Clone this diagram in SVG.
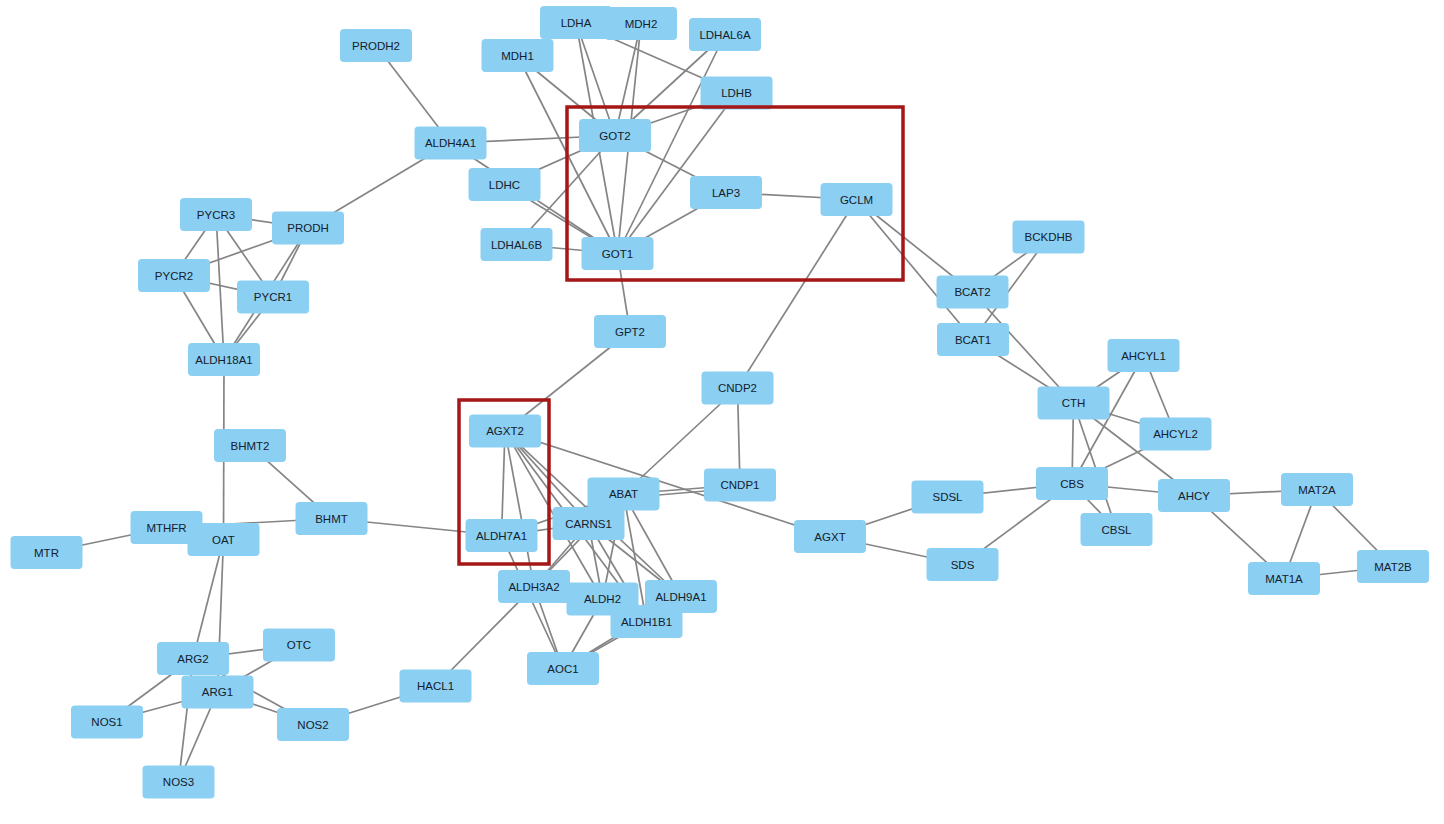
<svg xmlns="http://www.w3.org/2000/svg" width="1444" height="824" viewBox="0 0 1444 824">
<style>
.n rect{fill:#8BCFF2;}
.n text{font-family:"Liberation Sans",Arial,sans-serif;font-size:11.5px;fill:#14202c;text-anchor:middle;}
#edges line{stroke:#858585;stroke-width:1.7;}
.hl{fill:none;stroke:#A51616;stroke-width:3.5;}
</style>
<rect width="1444" height="824" fill="#ffffff"/>
<g id="edges">
<line x1="376" y1="45.5" x2="450.5" y2="143"/>
<line x1="450.5" y1="143" x2="615" y2="135.5"/>
<line x1="450.5" y1="143" x2="617.5" y2="253.5"/>
<line x1="450.5" y1="143" x2="308" y2="228"/>
<line x1="576" y1="22.5" x2="615" y2="135.5"/>
<line x1="576" y1="22.5" x2="617.5" y2="253.5"/>
<line x1="576" y1="22.5" x2="736.5" y2="93"/>
<line x1="641" y1="23.5" x2="615" y2="135.5"/>
<line x1="641" y1="23.5" x2="617.5" y2="253.5"/>
<line x1="517.5" y1="55.5" x2="615" y2="135.5"/>
<line x1="517.5" y1="55.5" x2="617.5" y2="253.5"/>
<line x1="725" y1="34.5" x2="615" y2="135.5"/>
<line x1="725" y1="34.5" x2="617.5" y2="253.5"/>
<line x1="736.5" y1="93" x2="615" y2="135.5"/>
<line x1="736.5" y1="93" x2="617.5" y2="253.5"/>
<line x1="615" y1="135.5" x2="726" y2="192.5"/>
<line x1="615" y1="135.5" x2="504.5" y2="184.5"/>
<line x1="615" y1="135.5" x2="516.5" y2="244.5"/>
<line x1="504.5" y1="184.5" x2="617.5" y2="253.5"/>
<line x1="516.5" y1="244.5" x2="617.5" y2="253.5"/>
<line x1="617.5" y1="253.5" x2="726" y2="192.5"/>
<line x1="726" y1="192.5" x2="856.5" y2="199.5"/>
<line x1="617.5" y1="253.5" x2="630" y2="331.5"/>
<line x1="630" y1="331.5" x2="505" y2="431"/>
<line x1="856.5" y1="199.5" x2="737.5" y2="388"/>
<line x1="856.5" y1="199.5" x2="972.5" y2="292"/>
<line x1="856.5" y1="199.5" x2="973" y2="339.5"/>
<line x1="216" y1="214.5" x2="308" y2="228"/>
<line x1="216" y1="214.5" x2="174" y2="275.5"/>
<line x1="216" y1="214.5" x2="273" y2="297"/>
<line x1="216" y1="214.5" x2="224" y2="359.5"/>
<line x1="308" y1="228" x2="174" y2="275.5"/>
<line x1="308" y1="228" x2="273" y2="297"/>
<line x1="308" y1="228" x2="224" y2="359.5"/>
<line x1="273" y1="297" x2="224" y2="359.5"/>
<line x1="174" y1="275.5" x2="273" y2="297"/>
<line x1="174" y1="275.5" x2="224" y2="359.5"/>
<line x1="224" y1="359.5" x2="223.5" y2="539.5"/>
<line x1="250" y1="445.5" x2="331.5" y2="518.5"/>
<line x1="166.5" y1="527.5" x2="331.5" y2="518.5"/>
<line x1="46.5" y1="552.5" x2="166.5" y2="527.5"/>
<line x1="331.5" y1="518.5" x2="501.5" y2="535.5"/>
<line x1="223.5" y1="539.5" x2="193" y2="658.5"/>
<line x1="223.5" y1="539.5" x2="217.5" y2="692"/>
<line x1="193" y1="658.5" x2="299" y2="645"/>
<line x1="217.5" y1="692" x2="299" y2="645"/>
<line x1="193" y1="658.5" x2="107" y2="722"/>
<line x1="217.5" y1="692" x2="107" y2="722"/>
<line x1="193" y1="658.5" x2="313" y2="724.5"/>
<line x1="217.5" y1="692" x2="313" y2="724.5"/>
<line x1="193" y1="658.5" x2="178.5" y2="782"/>
<line x1="217.5" y1="692" x2="178.5" y2="782"/>
<line x1="313" y1="724.5" x2="435.5" y2="686"/>
<line x1="435.5" y1="686" x2="534" y2="586.5"/>
<line x1="505" y1="431" x2="501.5" y2="535.5"/>
<line x1="505" y1="431" x2="534" y2="586.5"/>
<line x1="505" y1="431" x2="588.5" y2="523.5"/>
<line x1="505" y1="431" x2="602.5" y2="599"/>
<line x1="505" y1="431" x2="681" y2="596.5"/>
<line x1="505" y1="431" x2="646.5" y2="621.5"/>
<line x1="505" y1="431" x2="830" y2="536.5"/>
<line x1="501.5" y1="535.5" x2="623.5" y2="494"/>
<line x1="501.5" y1="535.5" x2="588.5" y2="523.5"/>
<line x1="501.5" y1="535.5" x2="563" y2="668.5"/>
<line x1="588.5" y1="523.5" x2="534" y2="586.5"/>
<line x1="588.5" y1="523.5" x2="602.5" y2="599"/>
<line x1="588.5" y1="523.5" x2="681" y2="596.5"/>
<line x1="588.5" y1="523.5" x2="646.5" y2="621.5"/>
<line x1="623.5" y1="494" x2="534" y2="586.5"/>
<line x1="623.5" y1="494" x2="602.5" y2="599"/>
<line x1="623.5" y1="494" x2="681" y2="596.5"/>
<line x1="623.5" y1="494" x2="646.5" y2="621.5"/>
<line x1="623.5" y1="494" x2="740" y2="485"/>
<line x1="623.5" y1="498" x2="740" y2="488"/>
<line x1="623.5" y1="494" x2="737.5" y2="388"/>
<line x1="534" y1="586.5" x2="563" y2="668.5"/>
<line x1="602.5" y1="599" x2="563" y2="668.5"/>
<line x1="646.5" y1="621.5" x2="563" y2="668.5"/>
<line x1="681" y1="596.5" x2="563" y2="668.5"/>
<line x1="737.5" y1="388" x2="740" y2="485"/>
<line x1="830" y1="536.5" x2="947.5" y2="497"/>
<line x1="830" y1="536.5" x2="962.5" y2="564.5"/>
<line x1="1048.5" y1="237" x2="972.5" y2="292"/>
<line x1="1048.5" y1="237" x2="973" y2="339.5"/>
<line x1="972.5" y1="292" x2="1073.5" y2="403"/>
<line x1="973" y1="339.5" x2="1073.5" y2="403"/>
<line x1="1143.5" y1="355.5" x2="1073.5" y2="403"/>
<line x1="1143.5" y1="355.5" x2="1072" y2="483.5"/>
<line x1="1143.5" y1="355.5" x2="1175.5" y2="434"/>
<line x1="1073.5" y1="403" x2="1175.5" y2="434"/>
<line x1="1073.5" y1="403" x2="1072" y2="483.5"/>
<line x1="1073.5" y1="403" x2="1116.5" y2="529.5"/>
<line x1="1073.5" y1="403" x2="1194" y2="495.5"/>
<line x1="1072" y1="483.5" x2="1175.5" y2="434"/>
<line x1="1072" y1="483.5" x2="947.5" y2="497"/>
<line x1="1072" y1="483.5" x2="962.5" y2="564.5"/>
<line x1="1072" y1="483.5" x2="1194" y2="495.5"/>
<line x1="1072" y1="483.5" x2="1116.5" y2="529.5"/>
<line x1="1194" y1="495.5" x2="1317" y2="489.5"/>
<line x1="1194" y1="495.5" x2="1284" y2="578.5"/>
<line x1="1317" y1="489.5" x2="1284" y2="578.5"/>
<line x1="1317" y1="489.5" x2="1393" y2="566.5"/>
<line x1="1284" y1="578.5" x2="1393" y2="566.5"/>
</g>
<g id="PRODH2" class="n"><rect x="340" y="29" width="72" height="33" rx="4"/><text x="376" y="49.5">PRODH2</text></g>
<g id="LDHA" class="n"><rect x="540" y="6" width="72" height="33" rx="4"/><text x="576" y="26.5">LDHA</text></g>
<g id="MDH2" class="n"><rect x="605" y="7" width="72" height="33" rx="4"/><text x="641" y="27.5">MDH2</text></g>
<g id="MDH1" class="n"><rect x="481.5" y="39" width="72" height="33" rx="4"/><text x="517.5" y="59.5">MDH1</text></g>
<g id="LDHAL6A" class="n"><rect x="689" y="18" width="72" height="33" rx="4"/><text x="725" y="38.5">LDHAL6A</text></g>
<g id="LDHB" class="n"><rect x="700.5" y="76.5" width="72" height="33" rx="4"/><text x="736.5" y="97">LDHB</text></g>
<g id="ALDH4A1" class="n"><rect x="414.5" y="126.5" width="72" height="33" rx="4"/><text x="450.5" y="147">ALDH4A1</text></g>
<g id="GOT2" class="n"><rect x="579" y="119" width="72" height="33" rx="4"/><text x="615" y="139.5">GOT2</text></g>
<g id="LDHC" class="n"><rect x="468.5" y="168" width="72" height="33" rx="4"/><text x="504.5" y="188.5">LDHC</text></g>
<g id="LAP3" class="n"><rect x="690" y="176" width="72" height="33" rx="4"/><text x="726" y="196.5">LAP3</text></g>
<g id="GCLM" class="n"><rect x="820.5" y="183" width="72" height="33" rx="4"/><text x="856.5" y="203.5">GCLM</text></g>
<g id="LDHAL6B" class="n"><rect x="480.5" y="228" width="72" height="33" rx="4"/><text x="516.5" y="248.5">LDHAL6B</text></g>
<g id="GOT1" class="n"><rect x="581.5" y="237" width="72" height="33" rx="4"/><text x="617.5" y="257.5">GOT1</text></g>
<g id="PYCR3" class="n"><rect x="180" y="198" width="72" height="33" rx="4"/><text x="216" y="218.5">PYCR3</text></g>
<g id="PRODH" class="n"><rect x="272" y="211.5" width="72" height="33" rx="4"/><text x="308" y="232">PRODH</text></g>
<g id="PYCR2" class="n"><rect x="138" y="259" width="72" height="33" rx="4"/><text x="174" y="279.5">PYCR2</text></g>
<g id="PYCR1" class="n"><rect x="237" y="280.5" width="72" height="33" rx="4"/><text x="273" y="301">PYCR1</text></g>
<g id="ALDH18A1" class="n"><rect x="188" y="343" width="72" height="33" rx="4"/><text x="224" y="363.5">ALDH18A1</text></g>
<g id="GPT2" class="n"><rect x="594" y="315" width="72" height="33" rx="4"/><text x="630" y="335.5">GPT2</text></g>
<g id="BCKDHB" class="n"><rect x="1012.5" y="220.5" width="72" height="33" rx="4"/><text x="1048.5" y="241">BCKDHB</text></g>
<g id="BCAT2" class="n"><rect x="936.5" y="275.5" width="72" height="33" rx="4"/><text x="972.5" y="296">BCAT2</text></g>
<g id="BCAT1" class="n"><rect x="937" y="323" width="72" height="33" rx="4"/><text x="973" y="343.5">BCAT1</text></g>
<g id="AHCYL1" class="n"><rect x="1107.5" y="339" width="72" height="33" rx="4"/><text x="1143.5" y="359.5">AHCYL1</text></g>
<g id="CTH" class="n"><rect x="1037.5" y="386.5" width="72" height="33" rx="4"/><text x="1073.5" y="407">CTH</text></g>
<g id="AHCYL2" class="n"><rect x="1139.5" y="417.5" width="72" height="33" rx="4"/><text x="1175.5" y="438">AHCYL2</text></g>
<g id="CNDP2" class="n"><rect x="701.5" y="371.5" width="72" height="33" rx="4"/><text x="737.5" y="392">CNDP2</text></g>
<g id="AGXT2" class="n"><rect x="469" y="414.5" width="72" height="33" rx="4"/><text x="505" y="435">AGXT2</text></g>
<g id="BHMT2" class="n"><rect x="214" y="429" width="72" height="33" rx="4"/><text x="250" y="449.5">BHMT2</text></g>
<g id="CNDP1" class="n"><rect x="704" y="468.5" width="72" height="33" rx="4"/><text x="740" y="489">CNDP1</text></g>
<g id="ABAT" class="n"><rect x="587.5" y="477.5" width="72" height="33" rx="4"/><text x="623.5" y="498">ABAT</text></g>
<g id="SDSL" class="n"><rect x="911.5" y="480.5" width="72" height="33" rx="4"/><text x="947.5" y="501">SDSL</text></g>
<g id="CBS" class="n"><rect x="1036" y="467" width="72" height="33" rx="4"/><text x="1072" y="487.5">CBS</text></g>
<g id="AHCY" class="n"><rect x="1158" y="479" width="72" height="33" rx="4"/><text x="1194" y="499.5">AHCY</text></g>
<g id="MAT2A" class="n"><rect x="1281" y="473" width="72" height="33" rx="4"/><text x="1317" y="493.5">MAT2A</text></g>
<g id="BHMT" class="n"><rect x="295.5" y="502" width="72" height="33" rx="4"/><text x="331.5" y="522.5">BHMT</text></g>
<g id="MTHFR" class="n"><rect x="130.5" y="511" width="72" height="33" rx="4"/><text x="166.5" y="531.5">MTHFR</text></g>
<g id="OAT" class="n"><rect x="187.5" y="523" width="72" height="33" rx="4"/><text x="223.5" y="543.5">OAT</text></g>
<g id="MTR" class="n"><rect x="10.5" y="536" width="72" height="33" rx="4"/><text x="46.5" y="556.5">MTR</text></g>
<g id="CARNS1" class="n"><rect x="552.5" y="507" width="72" height="33" rx="4"/><text x="588.5" y="527.5">CARNS1</text></g>
<g id="ALDH7A1" class="n"><rect x="465.5" y="519" width="72" height="33" rx="4"/><text x="501.5" y="539.5">ALDH7A1</text></g>
<g id="AGXT" class="n"><rect x="794" y="520" width="72" height="33" rx="4"/><text x="830" y="540.5">AGXT</text></g>
<g id="CBSL" class="n"><rect x="1080.5" y="513" width="72" height="33" rx="4"/><text x="1116.5" y="533.5">CBSL</text></g>
<g id="SDS" class="n"><rect x="926.5" y="548" width="72" height="33" rx="4"/><text x="962.5" y="568.5">SDS</text></g>
<g id="MAT1A" class="n"><rect x="1248" y="562" width="72" height="33" rx="4"/><text x="1284" y="582.5">MAT1A</text></g>
<g id="MAT2B" class="n"><rect x="1357" y="550" width="72" height="33" rx="4"/><text x="1393" y="570.5">MAT2B</text></g>
<g id="ALDH3A2" class="n"><rect x="498" y="570" width="72" height="33" rx="4"/><text x="534" y="590.5">ALDH3A2</text></g>
<g id="ALDH2" class="n"><rect x="566.5" y="582.5" width="72" height="33" rx="4"/><text x="602.5" y="603">ALDH2</text></g>
<g id="ALDH9A1" class="n"><rect x="645" y="580" width="72" height="33" rx="4"/><text x="681" y="600.5">ALDH9A1</text></g>
<g id="ALDH1B1" class="n"><rect x="610.5" y="605" width="72" height="33" rx="4"/><text x="646.5" y="625.5">ALDH1B1</text></g>
<g id="AOC1" class="n"><rect x="527" y="652" width="72" height="33" rx="4"/><text x="563" y="672.5">AOC1</text></g>
<g id="OTC" class="n"><rect x="263" y="628.5" width="72" height="33" rx="4"/><text x="299" y="649">OTC</text></g>
<g id="ARG2" class="n"><rect x="157" y="642" width="72" height="33" rx="4"/><text x="193" y="662.5">ARG2</text></g>
<g id="ARG1" class="n"><rect x="181.5" y="675.5" width="72" height="33" rx="4"/><text x="217.5" y="696">ARG1</text></g>
<g id="HACL1" class="n"><rect x="399.5" y="669.5" width="72" height="33" rx="4"/><text x="435.5" y="690">HACL1</text></g>
<g id="NOS1" class="n"><rect x="71" y="705.5" width="72" height="33" rx="4"/><text x="107" y="726">NOS1</text></g>
<g id="NOS2" class="n"><rect x="277" y="708" width="72" height="33" rx="4"/><text x="313" y="728.5">NOS2</text></g>
<g id="NOS3" class="n"><rect x="142.5" y="765.5" width="72" height="33" rx="4"/><text x="178.5" y="786">NOS3</text></g>
<g id="highlights">
<rect class="hl" x="567" y="107" width="336" height="173"/>
<rect class="hl" x="459" y="400" width="90" height="164"/>
</g>
</svg>
